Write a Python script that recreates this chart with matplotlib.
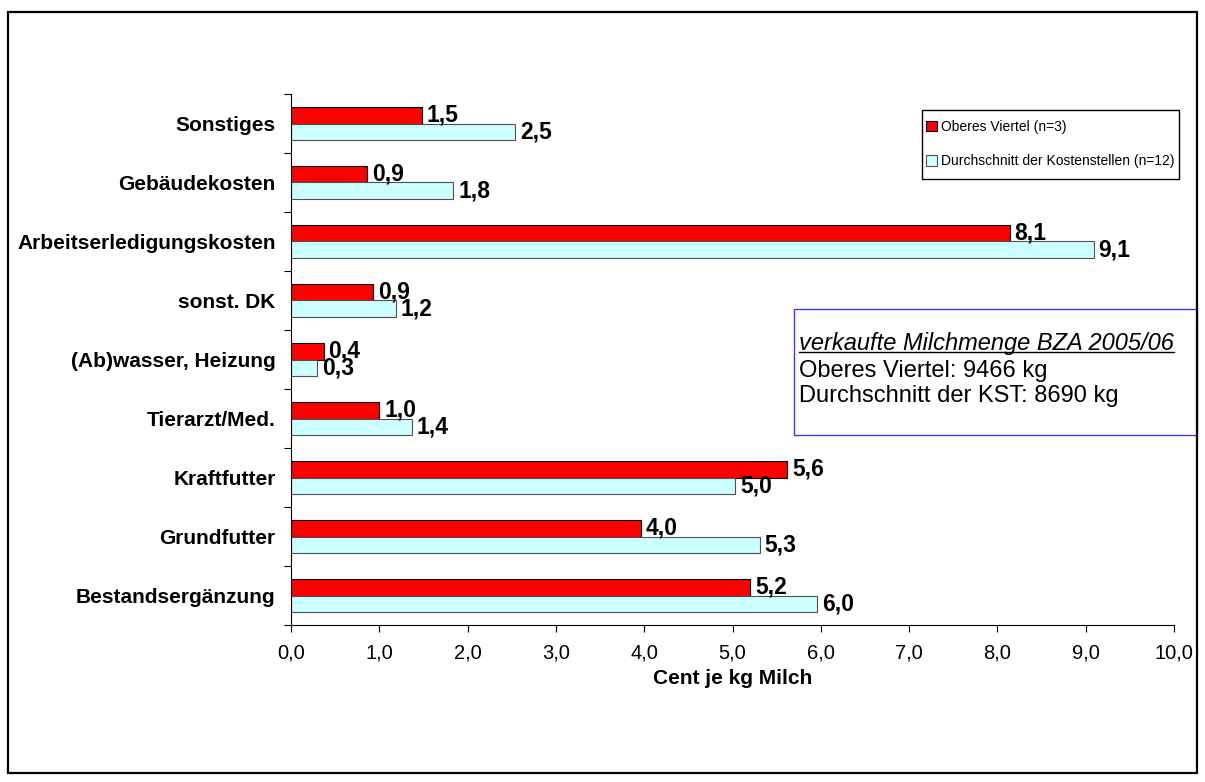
import numpy as np
import matplotlib
matplotlib.use('Agg')
import matplotlib.pyplot as plt
from matplotlib.patches import Rectangle
from matplotlib.lines import Line2D

plt.rcParams['font.family'] = ['Liberation Sans', 'DejaVu Sans']

# data (bottom to top)
categories = ['Bestandsergänzung', 'Grundfutter', 'Kraftfutter', 'Tierarzt/Med.',
              '(Ab)wasser, Heizung', 'sonst. DK', 'Arbeitserledigungskosten',
              'Gebäudekosten', 'Sonstiges']
oberes = [5.20, 3.96, 5.62, 1.00, 0.37, 0.93, 8.14, 0.86, 1.48]
durchschnitt = [5.96, 5.31, 5.03, 1.37, 0.30, 1.19, 9.09, 1.84, 2.54]
series_names = ['Oberes Viertel (n=3)', 'Durchschnitt der Kostenstellen (n=12)']
xticks = np.arange(0, 11, 1)
box_lines = ['verkaufte Milchmenge BZA 2005/06',
             'Oberes Viertel: 9466 kg',
             'Durchschnitt der KST: 8690 kg']

W, H = 1205, 782
fig = plt.figure(figsize=(W / 100, H / 100), dpi=100)


def fx(px):
    return px / W


def fy(py):
    return 1 - py / H


def fmt(v):
    return f'{v:.1f}'.replace('.', ',')


ax = fig.add_axes([fx(291), fy(625), fx(1174) - fx(291), fy(94) - fy(625)])
y = np.arange(len(categories))
h = 0.28
b1 = ax.barh(y + h / 2, oberes, height=h, color='#ff0000', edgecolor='black',
             linewidth=0.8, label=series_names[0])
b2 = ax.barh(y - h / 2, durchschnitt, height=h, color='#ccffff', edgecolor='#505050',
             linewidth=0.8, label=series_names[1])

for bars, vals in [(b1, oberes), (b2, durchschnitt)]:
    for rect, v in zip(bars, vals):
        ax.annotate(fmt(v), (v, rect.get_y() + rect.get_height() / 2),
                    xytext=(3.5, 0), textcoords='offset points',
                    ha='left', va='center', fontsize=16.5, fontweight='bold')

ax.set_xlim(0, 10)
ax.set_ylim(-0.5, len(categories) - 0.5)
ax.set_xticks(xticks)
ax.set_xticklabels([fmt(t) for t in xticks], fontsize=14.5)
ax.set_yticks(y)
ax.set_yticklabels(categories, fontsize=15, fontweight='bold')
ax.set_yticks(np.arange(-0.5, len(categories)), minor=True)
ax.tick_params(axis='y', which='major', length=0, pad=11)
ax.tick_params(axis='y', which='minor', length=5, direction='out', width=0.8)
ax.tick_params(axis='x', length=5, direction='out', width=0.8, pad=8)
for s in ['top', 'right']:
    ax.spines[s].set_visible(False)
for s in ['left', 'bottom']:
    ax.spines[s].set_linewidth(0.8)
ax.set_xlabel('Cent je kg Milch', fontsize=15, fontweight='bold', labelpad=5)

# legend
fig.legend(handles=[b1, b2], loc='center left', bbox_to_anchor=(fx(922), fy(144)),
           borderaxespad=0, borderpad=0.3, frameon=False, fontsize=10,
           handlelength=0.75, handleheight=0.75, handletextpad=0.3, labelspacing=1.5)
fig.add_artist(Rectangle((fx(922), fy(179)), fx(1179) - fx(922), fy(110) - fy(179),
                         transform=fig.transFigure, fill=False, edgecolor='black', lw=1))

# text box
fig.add_artist(Rectangle((fx(794), fy(435)), fx(1197) - fx(794), fy(309) - fy(435),
                         transform=fig.transFigure, fill=False, edgecolor='#3a3aff', lw=1))
t1 = fig.text(fx(799), fy(350), box_lines[0], style='italic', fontsize=17, va='baseline')
fig.text(fx(799), fy(377), box_lines[1], fontsize=17, va='baseline')
fig.text(fx(799), fy(402), box_lines[2], fontsize=17, va='baseline')

# outer frame
fig.add_artist(Rectangle((fx(8), fy(773)), fx(1197) - fx(8), fy(12) - fy(773),
                         transform=fig.transFigure, fill=False, edgecolor='black', lw=1.6))

fig.canvas.draw()
bb = t1.get_window_extent().transformed(fig.transFigure.inverted())
fig.add_artist(Line2D([bb.x0, bb.x1], [fy(352), fy(352)], transform=fig.transFigure,
                      color='black', lw=1))

fig.savefig('out.png', dpi=100)
